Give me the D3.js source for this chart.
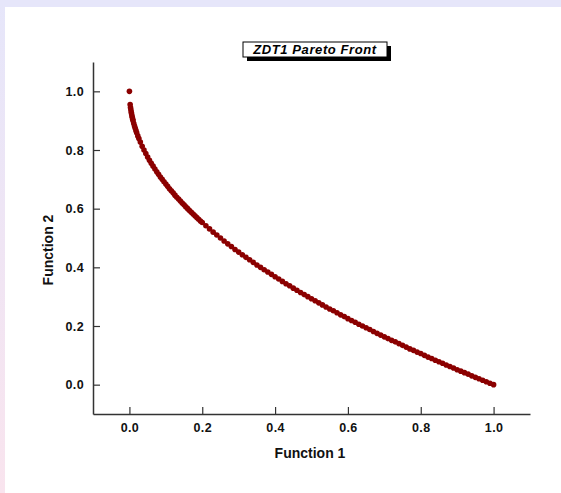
<!DOCTYPE html>
<html>
<head>
<meta charset="utf-8">
<script src="https://cdn.jsdelivr.net/npm/d3@7"></script>
<style>
  html, body { margin: 0; padding: 0; background: #fff; }
  svg { display: block; font-family: "Liberation Sans", Arial, sans-serif; }
</style>
</head>
<body>
<div id="chart"></div>
<script>
// Pareto front points (Function 1, Function 2)
const f1Values = [
  0, 0.002, 0.003, 0.004, 0.005, 0.006, 0.007, 0.008, 0.009, 0.010,
  0.012, 0.014, 0.016, 0.018, 0.020, 0.023, 0.026, 0.030, 0.035, 0.040,
  0.045, 0.050, 0.055, 0.060, 0.065, 0.070, 0.075, 0.080, 0.085, 0.090,
  0.095, 0.10, 0.105, 0.11, 0.115, 0.12, 0.125, 0.13, 0.135, 0.14,
  0.145, 0.15, 0.155, 0.16, 0.165, 0.17, 0.175, 0.18, 0.185, 0.19,
  0.195, 0.20, 0.21, 0.22, 0.23, 0.24, 0.25, 0.26, 0.27, 0.28,
  0.29, 0.30, 0.31, 0.32, 0.33, 0.34, 0.35, 0.36, 0.37, 0.38,
  0.39, 0.40, 0.41, 0.42, 0.43, 0.44, 0.45, 0.46, 0.47, 0.48,
  0.49, 0.50, 0.51, 0.52, 0.53, 0.54, 0.55, 0.56, 0.57, 0.58,
  0.59, 0.60, 0.61, 0.62, 0.63, 0.64, 0.65, 0.66, 0.67, 0.68,
  0.69, 0.70, 0.71, 0.72, 0.73, 0.74, 0.75, 0.76, 0.77, 0.78,
  0.79, 0.80, 0.81, 0.82, 0.83, 0.84, 0.85, 0.86, 0.87, 0.88,
  0.89, 0.90, 0.91, 0.92, 0.93, 0.94, 0.95, 0.96, 0.97, 0.98,
  0.99, 1.00
];
const f2Values = [
  1.000, 0.955, 0.945, 0.937, 0.929, 0.923, 0.916, 0.911, 0.905, 0.900,
  0.890, 0.882, 0.874, 0.866, 0.859, 0.848, 0.839, 0.827, 0.813, 0.800,
  0.788, 0.776, 0.765, 0.755, 0.745, 0.735, 0.726, 0.717, 0.708, 0.700,
  0.692, 0.684, 0.676, 0.668, 0.661, 0.654, 0.646, 0.639, 0.633, 0.626,
  0.619, 0.613, 0.606, 0.600, 0.594, 0.588, 0.582, 0.576, 0.570, 0.564,
  0.558, 0.553, 0.542, 0.531, 0.520, 0.510, 0.500, 0.490, 0.480, 0.471,
  0.461, 0.452, 0.443, 0.434, 0.426, 0.417, 0.408, 0.400, 0.392, 0.384,
  0.376, 0.368, 0.360, 0.352, 0.344, 0.337, 0.329, 0.322, 0.314, 0.307,
  0.300, 0.293, 0.286, 0.279, 0.272, 0.265, 0.258, 0.252, 0.245, 0.238,
  0.232, 0.225, 0.219, 0.213, 0.206, 0.200, 0.194, 0.188, 0.181, 0.175,
  0.169, 0.163, 0.157, 0.151, 0.146, 0.140, 0.134, 0.128, 0.122, 0.117,
  0.111, 0.106, 0.100, 0.094, 0.089, 0.083, 0.078, 0.073, 0.067, 0.062,
  0.057, 0.051, 0.046, 0.041, 0.036, 0.030, 0.025, 0.020, 0.015, 0.010,
  0.005, 0.000
];
const xTicks = [0, 0.2, 0.4, 0.6, 0.8, 1.0];
const yTicks = [0, 0.2, 0.4, 0.6, 0.8, 1.0];
const chartTitle = "ZDT1 Pareto Front";
const xTitle = "Function 1";
const yTitle = "Function 2";

const width = 561, height = 493;
const plot = { left: 93, right: 530, top: 62, bottom: 414 };

const svg = d3.select("#chart").append("svg")
  .attr("width", width)
  .attr("height", height);

// lavender frame (top strip + left strip fading to pink)
const defs = svg.append("defs");
const grad = defs.append("linearGradient")
  .attr("id", "leftGrad")
  .attr("x1", 0).attr("y1", 0).attr("x2", 0).attr("y2", 1);
grad.append("stop").attr("offset", "0%").attr("stop-color", "#e6e6fa");
grad.append("stop").attr("offset", "100%").attr("stop-color", "#f9e4ee");

svg.append("rect").attr("x", 0).attr("y", 0).attr("width", width).attr("height", 7)
  .attr("fill", "#e6e6fa");
svg.append("rect").attr("x", 0).attr("y", 0).attr("width", 5).attr("height", height)
  .attr("fill", "url(#leftGrad)");

const x = d3.scaleLinear().domain([-0.1, 1.1]).range([plot.left, plot.right]);
const y = d3.scaleLinear().domain([-0.1, 1.1]).range([plot.bottom, plot.top]);

const fmt = d3.format(".1f");

// x axis
const xAxis = svg.append("g")
  .attr("transform", `translate(0,${plot.bottom})`)
  .call(d3.axisBottom(x).tickValues(xTicks).tickFormat(fmt).tickSizeInner(-7).tickSizeOuter(0).tickPadding(6));

// y axis
const yAxis = svg.append("g")
  .attr("transform", `translate(${plot.left},0)`)
  .call(d3.axisLeft(y).tickValues(yTicks).tickFormat(fmt).tickSizeInner(-7).tickSizeOuter(0).tickPadding(9));

[xAxis, yAxis].forEach(g => {
  g.select(".domain").attr("stroke", "#333").attr("stroke-width", 1.5);
  g.selectAll(".tick line").attr("stroke", "#333").attr("stroke-width", 1.2);
  g.selectAll(".tick text")
    .attr("fill", "#111")
    .style("font-size", "12.5px")
    .style("font-weight", "bold")
    .style("letter-spacing", "0.4px");
});
xAxis.selectAll(".tick text").attr("dy", "0.95em");

// points
svg.append("g")
  .selectAll("circle")
  .data(d3.zip(f1Values, f2Values))
  .join("circle")
  .attr("cx", d => x(d[0]))
  .attr("cy", d => y(d[1]))
  .attr("r", 2.8)
  .attr("fill", "#8b0000");

// axis titles
svg.append("text")
  .attr("x", 310).attr("y", 458)
  .attr("text-anchor", "middle")
  .style("font-size", "14px")
  .style("font-weight", "bold")
  .attr("fill", "#111")
  .text(xTitle);

svg.append("text")
  .attr("transform", `translate(53,250) rotate(-90)`)
  .attr("text-anchor", "middle")
  .style("font-size", "14px")
  .style("font-weight", "bold")
  .attr("fill", "#111")
  .text(yTitle);

// title box with drop shadow
const tb = { x: 243, y: 42, w: 144, h: 15 };
svg.append("rect")
  .attr("x", tb.x + 4).attr("y", tb.y + 4)
  .attr("width", tb.w).attr("height", tb.h)
  .attr("fill", "#000");
svg.append("rect")
  .attr("x", tb.x).attr("y", tb.y)
  .attr("width", tb.w).attr("height", tb.h)
  .attr("fill", "#fff").attr("stroke", "#000").attr("stroke-width", 1);
svg.append("text")
  .attr("x", tb.x + tb.w / 2).attr("y", tb.y + 12)
  .attr("text-anchor", "middle")
  .style("font-size", "13px")
  .style("font-style", "italic")
  .style("font-weight", "bold")
  .style("letter-spacing", "0.6px")
  .attr("fill", "#000")
  .text(chartTitle);
</script>
</body>
</html>
